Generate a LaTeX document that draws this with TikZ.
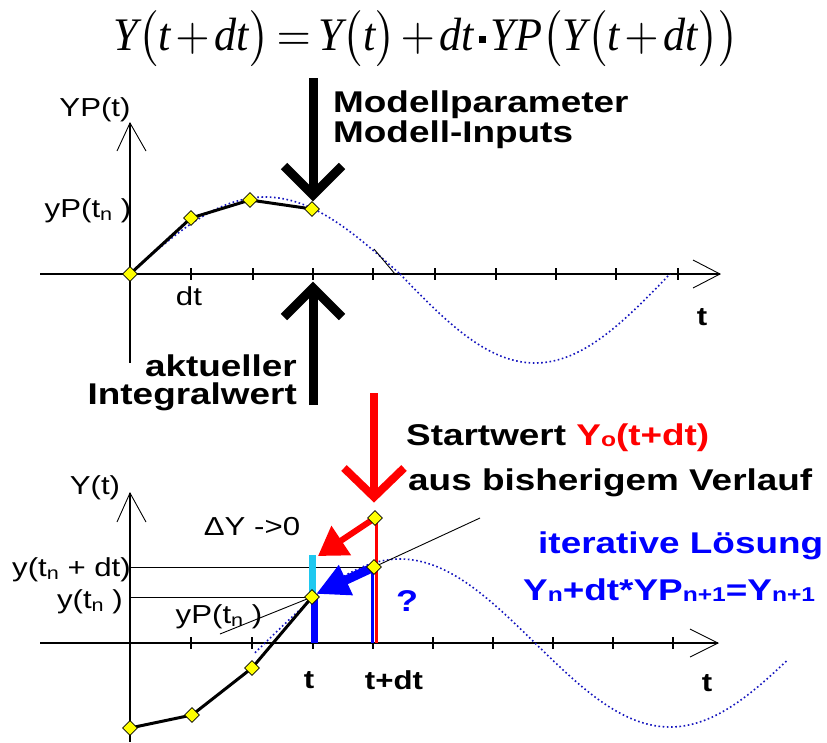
\documentclass[tikz,border=0pt]{standalone}
\usepackage{fontspec}
\setmainfont{Liberation Serif}
\setsansfont{Liberation Sans}
\usepackage{graphicx}
\usetikzlibrary{arrows.meta,shapes.geometric}
\definecolor{dotblue}{RGB}{20,20,190}
\definecolor{pureblue}{RGB}{0,0,255}
\definecolor{purered}{RGB}{255,0,0}
\definecolor{barcyan}{RGB}{30,200,240}
\definecolor{ptyellow}{RGB}{255,255,0}
\newcommand{\wx}[1]{\scalebox{1.2}[1]{#1}}
\newcommand{\wb}[1]{\scalebox{1.23}[1]{#1}}
\newcommand{\ei}[1]{\textit{#1}}
\newcommand{\sqdot}{\mathbin{\vcenter{\hbox{\rule{0.15em}{0.15em}}}}}
\newcommand{\lo}[1]{\raisebox{-3pt}{\fontsize{18}{18}\selectfont #1}}
\newcommand{\bsub}[1]{\raisebox{-1pt}{\fontsize{20}{20}\selectfont #1}}
\tikzset{
 axis/.style={line width=1.4pt},
 tickmark/.style={line width=1.4pt},
 thinline/.style={line width=0.9pt},
 euler/.style={line width=3pt, line join=round},
 curve/.style={dotblue, line width=1.6pt, dash pattern=on 1.6pt off 2.6pt},
 bigarrow/.style={line width=9pt, line cap=butt, line join=miter},
 pt/.style={diamond, draw=black, fill=ptyellow, line width=0.6pt, inner sep=0pt, minimum width=15pt, minimum height=15pt},
 lab/.style={font=\sffamily\fontsize{26}{28}\selectfont, inner sep=0pt},
 blab/.style={font=\sffamily\bfseries\fontsize{30}{32}\selectfont, inner sep=0pt},
}
\begin{document}
\begin{tikzpicture}[x=1pt,y=-1pt]
\useasboundingbox (0,0) rectangle (827,742);
\fill[white] (0,0) rectangle (827,742);

% equation
\node[inner sep=0pt] (eq) at (426,39) {\resizebox*{625pt}{56pt}{\thickmuskip=3mu\medmuskip=2mu$\ei{Y}\bigl(\ei{t}+\ei{dt}\bigr)=\ei{Y}\bigl(\ei{t}\bigr)+\ei{dt}\sqdot\ei{YP}\bigl(\ei{Y}\bigl(\ei{t}+\ei{dt}\bigr)\bigr)$}};

% ---------- top graph ----------
\draw[axis] (40,274) -- (720,274);
\draw[thinline] (693,260) -- (720,274) -- (693,288);
\draw[axis] (130,123) -- (130,363);
\draw[thinline] (117,151) -- (130,123) -- (146,151);
\foreach \x in {191,253,313,373,435,496,556,616,678} \draw[tickmark] (\x,268) -- (\x,280);
\draw[curve] plot[domain=130:400,samples=90] (\x,{274-77*sin((\x-130)*2/3)});
\draw[curve] plot[domain=400:670,samples=90] (\x,{274+89*sin((\x-400)*2/3)});
\draw[thinline] (374,249) -- (395,274);

\coordinate (a0) at (130,274);
\coordinate (a1) at (191,218);
\coordinate (a2) at (250,200);
\coordinate (a3) at (312,209);
\draw[euler] (a0) -- (a1) -- (a2) -- (a3);

% big black arrows
\coordinate (dnT) at (313,78);
\coordinate (dnB) at (313,192);
\draw[bigarrow] (dnT) -- (dnB);
\draw[bigarrow] (284,166) -- (313,195) -- (342,166);
\coordinate (upB) at (313,405);
\coordinate (upT) at (313,290);
\draw[bigarrow] (upB) -- (upT);
\draw[bigarrow] (284,317) -- (313,288) -- (342,317);

% red arrow
\coordinate (rdT) at (374,393);
\coordinate (rdB) at (374,494);
\draw[bigarrow, purered, line width=8pt] (rdT) -- (rdB);
\draw[bigarrow, purered, line width=8pt] (344,468) -- (374,497) -- (404,468);

% top labels
\node[lab] (lYP) at (95,110) {\wx{YP(t)}};
\node[lab] (lyPt) at (88,211) {\wx{yP(t\lo{n} )}};
\node[lab] (ldt) at (189,296) {\wx{dt}};
\node[lab, font=\sffamily\bfseries\fontsize{26}{28}\selectfont] (lt1) at (702,317) {\wx{t}};
\node[blab, anchor=base west] (lMp) at (333,112) {\wb{Modellparameter}};
\node[blab, anchor=base west] (lMi) at (333,142) {\wb{Modell-Inputs}};
\node[blab, anchor=base east] (lak) at (297,376) {\wb{aktueller}};
\node[blab, anchor=base east] (lIw) at (297,404) {\wb{Integralwert}};
\node[blab, anchor=base west] (lSw) at (406,445) {\wb{Startwert \textcolor{purered}{Y\bsub{o}(t+dt)}}};
\node[blab, anchor=base west] (laus) at (408,490) {\wb{aus bisherigem Verlauf}};
\node[blab, anchor=base west, text=pureblue] (lit) at (538,553) {\wb{iterative Lösung}};
\node[blab, anchor=base west, text=pureblue] (lform) at (523,600) {\wb{Y\bsub{n}+dt*YP\bsub{n+1}=Y\bsub{n+1}}};

% ---------- bottom graph ----------
\draw[axis] (40,643) -- (718,643);
\draw[thinline] (690,629) -- (718,643) -- (690,657);
\draw[axis] (130,493) -- (130,742);
\draw[thinline] (117,522) -- (130,493) -- (146,522);
\foreach \x in {191,252,313,373,433,493,553,613,673} \draw[tickmark] (\x,637) -- (\x,649);
\draw[curve] plot[domain=255:787,samples=140] (\x,{643+84*cos((\x-130)*2/3)});

\coordinate (b0) at (130,728);
\coordinate (b1) at (192,715);
\coordinate (b2) at (252,668);
\coordinate (b3) at (312,597);
\coordinate (b4) at (374,567);
\coordinate (b5) at (375,518);
\coordinate (yl1) at (130,567);
\coordinate (yl2) at (130,597);
\coordinate (tg0) at (220,634);
\coordinate (tg1) at (480,518);

\draw[thinline] (yl1) -- (b4);
\draw[thinline] (yl2) -- (b3);
\draw[thinline] (tg0) -- (b3);
\draw[thinline] (b4) -- (tg1);
\draw[barcyan, line width=7pt] (312,555) -- (312,597);
\draw[pureblue, line width=7pt] (314,597) -- (314,643);
\draw[pureblue, line width=3pt] (372,567) -- (372,643);
\draw[purered, line width=3pt] (376,518) -- (376,643);
\draw[euler] (b0) -- (b1) -- (b2) -- (b3);
\draw[purered, line width=6pt, -{Triangle[length=28pt,width=34pt]}] (b5) -- (318,556);
\draw[pureblue, line width=9pt, -{Triangle[length=33pt,width=31pt]}] (b4) -- (316,594);

% bottom labels
\node[lab] (lY) at (95,488) {\wx{Y(t)}};
\node[lab] (ldY) at (252,527) {\wx{ΔY ->0}};
\node[lab, anchor=east] (lytd) at (131,570) {\wx{y(t\lo{n} + dt)}};
\node[lab, anchor=east] (lyt) at (123,602) {\wx{y(t\lo{n} )}};
\node[lab] (lyPb) at (219,617) {\wx{yP(t\lo{n} )}};
\node[lab, font=\sffamily\bfseries\fontsize{26}{28}\selectfont] (lt2) at (309,680) {\wx{t}};
\node[lab, font=\sffamily\bfseries\fontsize{26}{28}\selectfont] (ltdt) at (394,680) {\wx{t+dt}};
\node[lab, font=\sffamily\bfseries\fontsize{26}{28}\selectfont] (lt3) at (707,683) {\wx{t}};
\node[blab, text=pureblue] (lq) at (407,601) {\wx{?}};

% points
\foreach \c in {a0,a1,a2,a3,b0,b1,b2,b3,b4,b5} \node[pt] (p\c) at (\c) {};
\end{tikzpicture}
\end{document}
